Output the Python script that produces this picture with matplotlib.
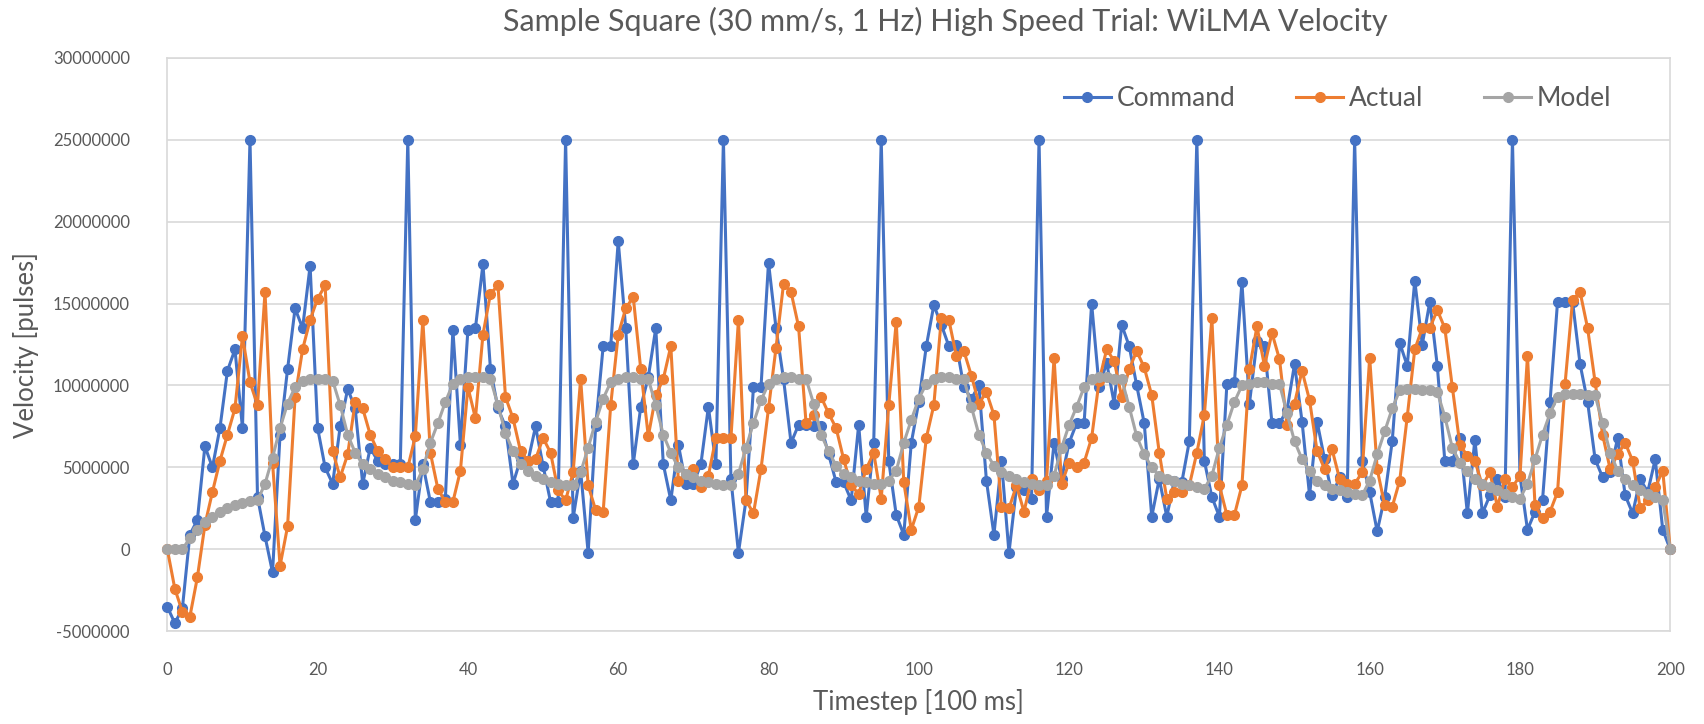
import matplotlib
matplotlib.use("Agg")
import matplotlib.pyplot as plt
import numpy as np

plt.rcParams['font.family'] = ['Lato', 'DejaVu Sans']

title = "Sample Square (30 mm/s, 1 Hz) High Speed Trial: WiLMA Velocity"
x_label = "Timestep [100 ms]"
y_label = "Velocity [pulses]"
series_names = ["Command", "Actual", "Model"]
series_colors = ["#4472C4", "#ED7D31", "#A5A5A5"]

timestep = list(range(0, 201))

# velocities in millions of pulses
command_m = [
    -3.5, -4.5, -3.6, 0.9, 1.8, 6.3, 5.0, 7.4, 10.9, 12.2,
    7.4, 25.0, 3.2, 0.8, -1.4, 7.0, 11.0, 14.7, 13.5, 17.3,
    7.4, 5.0, 4.0, 7.5, 9.8, 8.6, 4.0, 6.2, 5.4, 5.2,
    5.2, 5.2, 25.0, 1.8, 5.2, 2.9, 2.9, 3.1, 13.4, 6.4,
    13.4, 13.5, 17.4, 11.0, 8.6, 7.5, 4.0, 5.5, 5.4, 7.5,
    5.1, 2.9, 2.9, 25.0, 1.9, 4.8, -0.2, 7.5, 12.4, 12.4,
    18.8, 13.5, 5.2, 8.7, 10.5, 13.5, 5.2, 3.0, 6.4, 4.0,
    4.0, 5.2, 8.7, 5.2, 25.0, 4.3, -0.2, 3.0, 9.9, 9.9,
    17.5, 13.5, 10.4, 6.5, 7.6, 7.6, 7.5, 7.5, 5.8, 4.1,
    4.1, 3.0, 7.6, 2.0, 6.5, 25.0, 5.4, 2.1, 0.9, 6.5,
    9.0, 12.4, 14.9, 13.7, 12.4, 12.5, 9.9, 9.2, 10.0, 4.2,
    0.9, 5.4, -0.2, 3.8, 3.6, 3.1, 25.0, 2.0, 6.5, 4.3,
    6.5, 7.7, 7.7, 15.0, 9.9, 11.4, 8.9, 13.7, 12.4, 10.0,
    7.7, 2.0, 4.3, 2.0, 4.2, 4.1, 6.6, 25.0, 5.4, 3.2,
    2.0, 10.1, 10.2, 16.3, 8.9, 12.7, 12.4, 7.7, 7.7, 8.5,
    11.3, 7.8, 3.3, 7.8, 5.5, 3.3, 4.4, 3.2, 25.0, 5.4,
    3.5, 1.1, 3.2, 6.6, 12.6, 11.2, 16.4, 12.5, 15.1, 11.2,
    5.4, 5.4, 6.8, 2.2, 6.7, 2.2, 3.3, 4.3, 3.2, 25.0,
    4.5, 1.2, 2.3, 3.0, 9.0, 15.1, 15.1, 15.1, 11.3, 9.0,
    5.5, 4.4, 4.7, 6.8, 3.3, 2.2, 4.3, 3.5, 5.5, 1.2,
    0.0,
]

actual_m = [
    0.0, -2.4, -3.8, -4.1, -1.7, 1.5, 3.5, 5.4, 7.0, 8.6,
    13.0, 10.2, 8.8, 15.7, 5.3, -1.0, 1.4, 9.3, 12.2, 14.0,
    15.3, 16.1, 6.0, 4.4, 5.8, 9.0, 8.6, 7.0, 6.0, 5.5,
    5.0, 5.0, 5.0, 6.9, 14.0, 5.9, 3.7, 2.9, 2.9, 4.8,
    9.9, 8.0, 13.1, 15.6, 16.1, 9.3, 8.0, 6.0, 5.4, 5.5,
    6.8, 5.9, 3.6, 3.0, 4.7, 10.4, 3.9, 2.4, 2.3, 8.8,
    13.1, 14.7, 15.4, 11.0, 6.9, 9.4, 10.4, 12.4, 4.2, 4.6,
    4.9, 3.8, 4.5, 6.8, 6.8, 6.8, 14.0, 3.0, 2.2, 4.9,
    8.6, 12.3, 16.2, 15.7, 13.6, 7.7, 8.2, 9.3, 8.3, 7.4,
    5.5, 3.9, 3.4, 4.9, 5.9, 3.1, 8.8, 13.9, 4.1, 1.2,
    2.6, 6.8, 8.8, 14.1, 14.0, 11.8, 12.1, 10.6, 8.9, 9.6,
    8.2, 2.6, 2.5, 3.9, 2.3, 4.3, 3.6, 4.2, 11.7, 4.0,
    5.3, 5.0, 5.3, 6.8, 10.3, 12.2, 11.5, 9.3, 11.0, 12.1,
    11.1, 9.4, 5.9, 3.1, 3.5, 3.5, 3.9, 5.9, 8.2, 14.1,
    3.9, 2.1, 2.1, 3.9, 11.0, 13.6, 11.2, 13.2, 11.6, 7.6,
    8.9, 10.9, 9.1, 6.0, 4.9, 6.1, 4.3, 4.0, 4.0, 4.7,
    11.7, 4.9, 2.7, 2.6, 4.2, 8.1, 12.2, 13.5, 13.5, 14.6,
    13.5, 9.9, 6.4, 5.7, 5.4, 3.9, 4.7, 2.6, 4.3, 3.8,
    4.5, 11.8, 2.7, 1.9, 2.3, 3.5, 10.1, 15.2, 15.7, 13.5,
    10.2, 7.0, 4.9, 5.8, 6.5, 5.4, 2.5, 3.0, 3.8, 4.8,
    0.0,
]

model_m = [
    0.0, 0.0, 0.0, 0.7, 1.2, 1.7, 2.0, 2.3, 2.5, 2.7,
    2.85, 2.95, 3.0, 4.0, 5.6, 7.4, 8.9, 9.9, 10.3, 10.4,
    10.4, 10.4, 10.3, 8.8, 7.0, 5.9, 5.2, 4.9, 4.6, 4.4,
    4.2, 4.1, 4.0, 3.9, 4.9, 6.5, 7.7, 9.0, 10.1, 10.4,
    10.5, 10.5, 10.5, 10.4, 8.8, 7.1, 6.0, 5.2, 4.8, 4.5,
    4.3, 4.1, 4.0, 3.9, 3.9, 4.7, 6.2, 7.8, 9.2, 10.2,
    10.4, 10.5, 10.5, 10.4, 10.4, 8.8, 7.0, 5.9, 5.0, 4.6,
    4.4, 4.2, 4.1, 4.0, 3.9, 3.9, 4.6, 6.2, 7.7, 9.1,
    10.1, 10.4, 10.5, 10.5, 10.4, 10.4, 8.9, 7.0, 6.0, 5.1,
    4.6, 4.4, 4.2, 4.1, 4.0, 4.0, 4.2, 4.8, 6.5, 7.9,
    9.2, 10.1, 10.4, 10.5, 10.5, 10.4, 10.4, 8.7, 7.0, 5.9,
    5.1, 4.7, 4.5, 4.3, 4.1, 4.0, 3.9, 3.9, 4.5, 6.2,
    7.6, 8.7, 9.9, 10.4, 10.5, 10.5, 10.4, 10.4, 8.7, 6.9,
    5.8, 5.0, 4.5, 4.3, 4.2, 4.0, 3.9, 3.8, 3.7, 4.5,
    6.2, 7.6, 9.0, 10.0, 10.1, 10.2, 10.2, 10.1, 10.1, 8.3,
    6.6, 5.5, 4.8, 4.2, 3.9, 3.7, 3.6, 3.5, 3.4, 3.3,
    4.2, 5.8, 7.2, 8.6, 9.7, 9.8, 9.8, 9.7, 9.7, 9.6,
    8.1, 6.2, 5.3, 4.8, 4.3, 4.0, 3.8, 3.6, 3.4, 3.2,
    3.1, 4.0, 5.5, 7.0, 8.3, 9.3, 9.5, 9.5, 9.5, 9.4,
    9.4, 7.7, 5.9, 4.8, 4.3, 3.9, 3.6, 3.4, 3.2, 3.0,
    0.0,
]

y_ticks = [-5000000, 0, 5000000, 10000000, 15000000, 20000000, 25000000, 30000000]
x_ticks = [0, 20, 40, 60, 80, 100, 120, 140, 160, 180, 200]

text_color = "#595959"
grid_color = "#D9D9D9"

fig = plt.figure(figsize=(17.04, 7.24), dpi=100)
ax = fig.add_axes([0.0982, 0.1279, 0.882, 0.7925])

for name, vals, col in zip(series_names, [command_m, actual_m, model_m], series_colors):
    ax.plot(timestep, np.array(vals) * 1e6, color=col, lw=2.2, marker='o',
            markersize=7, label=name, clip_on=False, zorder=3)

ax.set_xlim(0, 200)
ax.set_ylim(-5e6, 30e6)
ax.set_xticks(x_ticks)
ax.set_yticks(y_ticks)
ax.set_yticklabels([str(v) for v in y_ticks])
ax.set_xticklabels([str(v) for v in x_ticks])
ax.tick_params(axis='both', length=0, labelsize=12, labelcolor=text_color)
ax.tick_params(axis='y', pad=27)
ax.tick_params(axis='x', pad=22)
ax.grid(axis='y', color=grid_color, lw=1.2, zorder=0)
ax.set_axisbelow(True)
for s in ax.spines.values():
    s.set_color(grid_color)
    s.set_linewidth(1.2)

ax.set_xlabel(x_label, fontsize=18.5, color=text_color, labelpad=8)
ax.set_ylabel(y_label, fontsize=18.5, color=text_color, labelpad=10)
fig.text(0.555, 0.970, title, fontsize=22, color=text_color, ha='center', va='center')

leg = ax.legend(loc='center', bbox_to_anchor=(0.7785, 0.928), ncol=3, frameon=False,
                fontsize=19, labelcolor=text_color, handlelength=1.8,
                columnspacing=2.3, handletextpad=0.2)

fig.savefig("out.png", dpi=100, facecolor="white")
